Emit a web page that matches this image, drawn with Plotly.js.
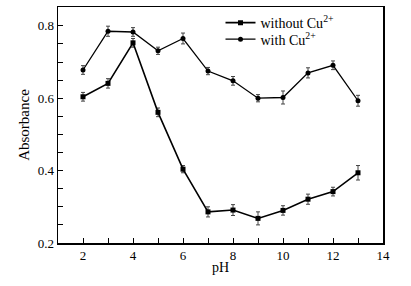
<!DOCTYPE html>
<html>
<head>
<meta charset="utf-8">
<script src="https://cdn.plot.ly/plotly-3.0.1.min.js"></script>
<style>html,body{margin:0;padding:0;background:#fff;}#chart{width:411px;height:286px;}</style>
</head>
<body>
<div id="chart"></div>
<script>
var pH = [2, 3, 4, 5, 6, 7, 8, 9, 10, 11, 12, 13];
var withoutCu = [0.604, 0.641, 0.753, 0.561, 0.404, 0.286, 0.291, 0.268, 0.290, 0.321, 0.342, 0.394];
var withoutErr = [0.012, 0.013, 0.012, 0.012, 0.010, 0.014, 0.015, 0.018, 0.013, 0.014, 0.012, 0.020];
var withCu = [0.678, 0.785, 0.783, 0.731, 0.765, 0.675, 0.648, 0.600, 0.602, 0.670, 0.691, 0.593];
var withErr = [0.012, 0.014, 0.012, 0.010, 0.015, 0.010, 0.012, 0.010, 0.018, 0.014, 0.012, 0.015];
var tickVals = [2, 4, 6, 8, 10, 12, 14];

var serif = "Liberation Serif";
var traces = [
  {x: pH, y: withoutCu, name: "without Cu<sup>2+</sup>", mode: "lines+markers", legend: "legend",
   line: {color: "#000", width: 1.6}, marker: {symbol: "square", size: 5, color: "#000"},
   error_y: {type: "data", array: withoutErr, color: "#444", thickness: 1, width: 2}},
  {x: pH, y: withCu, name: "with Cu<sup>2+</sup>", mode: "lines+markers", legend: "legend2",
   line: {color: "#000", width: 1.3}, marker: {symbol: "circle", size: 5, color: "#000"},
   error_y: {type: "data", array: withErr, color: "#444", thickness: 1, width: 2}}
];
var legFont = {family: serif, size: 14, color: "#000"};
var layout = {
  width: 411, height: 286,
  margin: {l: 58, r: 28, t: 7, b: 43},
  paper_bgcolor: "#fff", plot_bgcolor: "#fff",
  font: {family: serif, size: 13, color: "#000"},
  showlegend: true,
  legend: {x: 0.5, y: 0.932, xanchor: "left", yanchor: "middle", bgcolor: "rgba(0,0,0,0)",
           font: legFont, itemwidth: 30},
  legend2: {x: 0.5, y: 0.862, xanchor: "left", yanchor: "middle", bgcolor: "rgba(0,0,0,0)",
           font: legFont, itemwidth: 30},
  xaxis: {range: [1, 14], tickvals: tickVals, ticks: "inside", ticklen: 5, tickcolor: "#000",
          tickfont: {family: serif, size: 13, color: "#000"},
          showline: true, linecolor: "#000", linewidth: 1.5, mirror: true, showgrid: false, zeroline: false,
          minor: {dtick: 1, tick0: 1, ticks: "inside", ticklen: 5, tickcolor: "#000"},
          title: {text: "pH", font: {family: serif, size: 14, color: "#000"}, standoff: 0}},
  yaxis: {range: [0.2, 0.852], tickvals: [0.2, 0.4, 0.6, 0.8], ticktext: ["0.2", "0.4", "0.6", "0.8"],
          ticks: "inside", ticklen: 5, tickcolor: "#000",
          tickfont: {family: serif, size: 13, color: "#000"},
          showline: true, linecolor: "#000", linewidth: 1.5, mirror: true, showgrid: false, zeroline: false,
          minor: {dtick: 0.05, tick0: 0.2, ticks: "inside", ticklen: 5, tickcolor: "#000"},
          title: {text: "Absorbance", font: {family: serif, size: 15, color: "#000"}, standoff: 4}}
};
Plotly.newPlot("chart", traces, layout, {displayModeBar: false, staticPlot: true});
</script>
</body>
</html>
